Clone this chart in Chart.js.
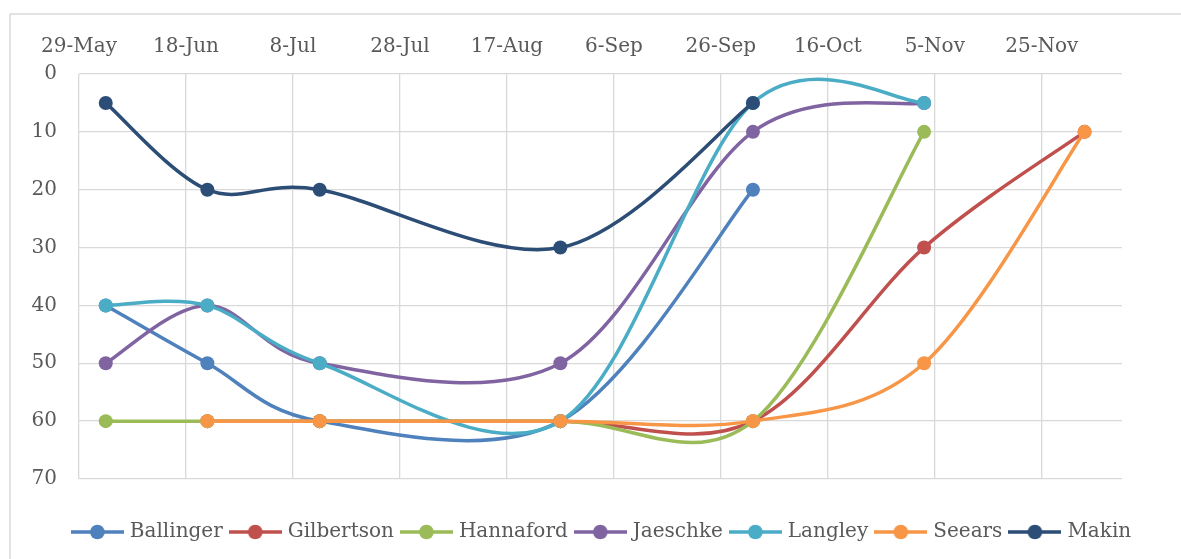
<!DOCTYPE html>
<html>
<head>
<meta charset="utf-8">
<script src="https://cdn.jsdelivr.net/npm/chart.js@4.4.0/dist/chart.umd.min.js"></script>
<style>
  html, body { margin: 0; padding: 0; background: #fff; }
  #wrap { width: 1181px; height: 559px; }
</style>
</head>
<body>
<div id="wrap"><canvas id="myChart"></canvas></div>
<script>
//  Data (blank = no reading that day)
const seasonStart = '2014-05-29';
const obsDates = ['2014-06-03', '2014-06-22', '2014-07-13', '2014-08-27', '2014-10-02', '2014-11-03', '2014-12-03'];
const tickDays = [0, 20, 40, 60, 80, 100, 120, 140, 160, 180];
const tickLabels = ['29-May', '18-Jun', '8-Jul', '28-Jul', '17-Aug', '6-Sep', '26-Sep', '16-Oct', '5-Nov', '25-Nov'];
const yTicks = [0, 10, 20, 30, 40, 50, 60, 70];

const names = ['Ballinger', 'Gilbertson', 'Hannaford', 'Jaeschke', 'Langley', 'Seears', 'Makin'];
const ballinger  = [40, 50, 60, 60, 20, null, null];
const gilbertson = [null, 60, 60, 60, 60, 30, 10];
const hannaford  = [60, 60, 60, 60, 60, 10, null];
const jaeschke   = [50, 40, 50, 50, 10, 5, null];
const langley    = [40, 40, 50, 60, 5, 5, null];
const seears     = [null, 60, 60, 60, 60, 50, 10];
const makin      = [5, 20, 20, 30, 5, null, null];
const colors = ['#4F81BD', '#C0504D', '#9BBB59', '#8064A2', '#4BACC6', '#F79646', '#2C4D75'];

const allSeries = [ballinger, gilbertson, hannaford, jaeschke, langley, seears, makin];

//  days since the first tick date
function days_from_start(d) {
    return Math.round((Date.parse(d) - Date.parse(seasonStart)) / 86400000);
}
const obsDays = obsDates.map(days_from_start);

//  little line+dot picture for the legend, like Excel does it
function legend_marker(color) {
    const c = document.createElement('canvas');
    c.width = 53; c.height = 16;
    const g = c.getContext('2d');
    g.strokeStyle = color;
    g.lineWidth = 3.5;
    g.beginPath(); g.moveTo(0, 8); g.lineTo(53, 8); g.stroke();
    g.fillStyle = color;
    g.beginPath(); g.arc(26.5, 8, 7.3, 0, Math.PI * 2); g.fill();
    return c;
}
const markers = colors.map(legend_marker);

const datasets = names.map((name, i) => ({
    label: name,
    data: obsDays.map((d, k) => ({ x: d, y: allSeries[i][k] })).filter(p => p.y !== null),
    borderColor: colors[i],
    backgroundColor: colors[i],
    borderWidth: 3.5,
    pointRadius: 7,
    pointBorderWidth: 0,
    tension: 0.4,
    order: names.length - i
}));

//  Excel style smoothing: plain Catmull-Rom (handles = (next - prev) / 6)
const excelSmooth = {
    id: 'excelSmooth',
    beforeDatasetsDraw(chart) {
        chart.getSortedVisibleDatasetMetas().forEach(meta => {
            const pts = meta.data;
            for (let i = 0; i < pts.length; i++) {
                const p = pts[i];
                const prev = pts[i - 1] || p;
                const next = pts[i + 1] || p;
                const dx = (next.x - prev.x) / 6;
                const dy = (next.y - prev.y) / 6;
                p.cp1x = p.x - dx; p.cp1y = p.y - dy;
                p.cp2x = p.x + dx; p.cp2y = p.y + dy;
            }
            meta.dataset._pointsUpdated = true;
        });
    }
};

//  light frame round the chart
const frame = {
    id: 'frame',
    beforeDraw(chart) {
        const ctx = chart.ctx;
        ctx.save();
        ctx.strokeStyle = '#D9D9D9';
        ctx.lineWidth = 1.5;
        ctx.strokeRect(10, 14, 1400, 800);
        ctx.restore();
    }
};

const font = { family: 'DejaVu Serif', size: 20 };

function draw_graph() {
    const ctx = document.getElementById('myChart');
    new Chart(ctx, {
        type: 'line',
        data: { datasets: datasets },
        plugins: [frame, excelSmooth],
        options: {
            responsive: true,
            maintainAspectRatio: false,
            animation: false,
            layout: { padding: { left: 25, right: 0, top: 0, bottom: 7 } },
            scales: {
                x: {
                    type: 'linear',
                    position: 'top',
                    min: 0,
                    max: 195,
                    afterBuildTicks: (scale) => { scale.ticks = tickDays.map(v => ({ value: v })); },
                    afterFit: (scale) => { scale.height = 74; },
                    grid: { color: '#D9D9D9', lineWidth: 1.3, drawTicks: false },
                    border: { display: false },
                    ticks: {
                        padding: 15,
                        color: '#595959',
                        font: font,
                        maxRotation: 0,
                        callback: (v) => tickLabels[tickDays.indexOf(v)]
                    }
                },
                xb: {
                    type: 'linear',
                    position: 'bottom',
                    display: true,
                    afterFit: (scale) => { scale.height = 33; },
                    grid: { display: false },
                    border: { display: false },
                    ticks: { display: false }
                },
                y: {
                    reverse: true,
                    min: 0,
                    max: 70,
                    afterBuildTicks: (scale) => { scale.ticks = yTicks.map(v => ({ value: v })); },
                    afterFit: (scale) => { scale.width = 54; },
                    grid: { color: '#D9D9D9', lineWidth: 1.3, drawTicks: false },
                    border: { display: false },
                    ticks: { padding: 22, color: '#595959', font: font }
                },
                y2: {
                    position: 'right',
                    display: true,
                    afterFit: (scale) => { scale.width = 59; },
                    grid: { display: false },
                    border: { display: false },
                    ticks: { display: false }
                }
            },
            plugins: {
                legend: {
                    position: 'bottom',
                    labels: {
                        usePointStyle: true,
                        pointStyleWidth: 45,
                        padding: 10,
                        color: '#595959',
                        font: font,
                        sort: (a, b) => a.datasetIndex - b.datasetIndex,
                        generateLabels: (chart) => {
                            const items = Chart.defaults.plugins.legend.labels.generateLabels(chart);
                            items.forEach(it => { it.pointStyle = markers[it.datasetIndex]; });
                            return items;
                        }
                    }
                },
                tooltip: { enabled: false }
            }
        }
    });
}
draw_graph();
</script>
</body>
</html>
